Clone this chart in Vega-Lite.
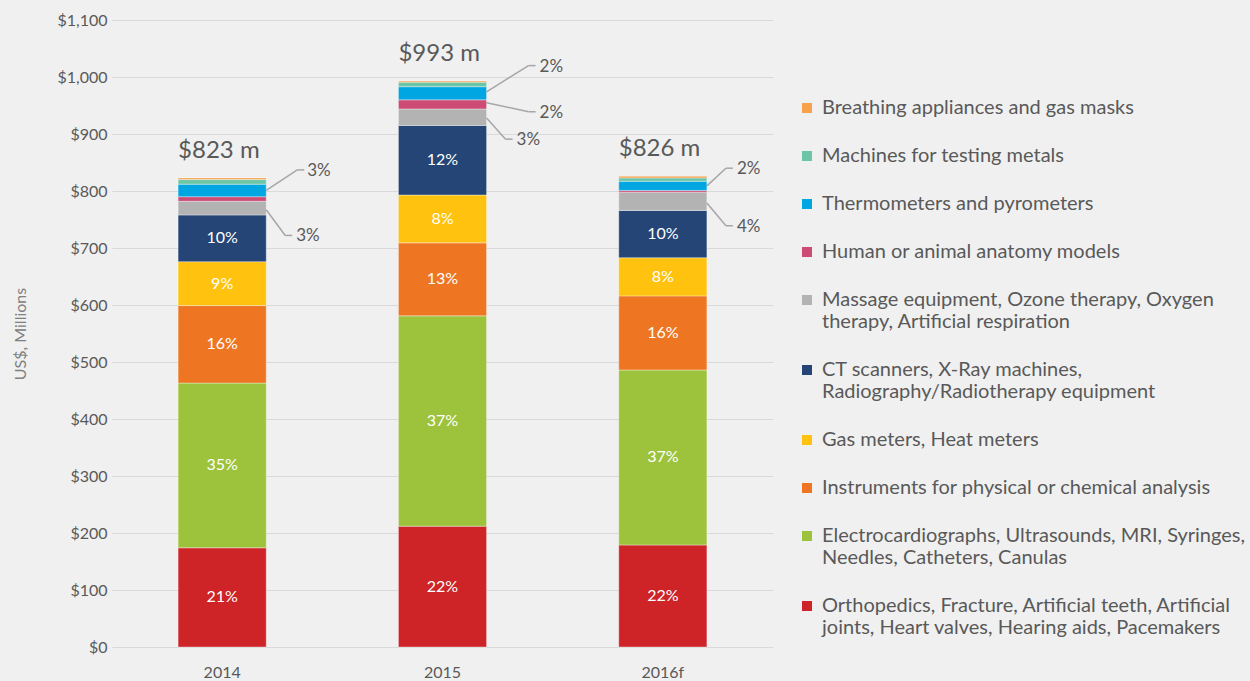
{
  "$schema": "https://vega.github.io/schema/vega-lite/v6.json",
  "width": 661,
  "height": 627,
  "autosize": {"type": "none"},
  "padding": {"left": 112, "top": 20, "right": 477, "bottom": 34},
  "background": "#f0f0f0",
  "datasets": {
    "imports": [
      {"year": "2014", "cat": "Orthopedics, Fracture, Artificial teeth, Artificial joints, Heart valves, Hearing aids, Pacemakers", "value": 174, "pct": "21%"},
      {"year": "2014", "cat": "Electrocardiographs, Ultrasounds, MRI, Syringes, Needles, Catheters, Canulas", "value": 289, "pct": "35%"},
      {"year": "2014", "cat": "Instruments for physical or chemical analysis", "value": 136, "pct": "16%"},
      {"year": "2014", "cat": "Gas meters, Heat meters", "value": 77, "pct": "9%"},
      {"year": "2014", "cat": "CT scanners, X-Ray machines, Radiography/Radiotherapy equipment", "value": 82, "pct": "10%"},
      {"year": "2014", "cat": "Massage equipment, Ozone therapy, Oxygen therapy, Artificial respiration", "value": 24},
      {"year": "2014", "cat": "Human or animal anatomy models", "value": 8},
      {"year": "2014", "cat": "Thermometers and pyrometers", "value": 22},
      {"year": "2014", "cat": "Machines for testing metals", "value": 8},
      {"year": "2014", "cat": "Breathing appliances and gas masks", "value": 3},
      {"year": "2015", "cat": "Orthopedics, Fracture, Artificial teeth, Artificial joints, Heart valves, Hearing aids, Pacemakers", "value": 212, "pct": "22%"},
      {"year": "2015", "cat": "Electrocardiographs, Ultrasounds, MRI, Syringes, Needles, Catheters, Canulas", "value": 369, "pct": "37%"},
      {"year": "2015", "cat": "Instruments for physical or chemical analysis", "value": 128, "pct": "13%"},
      {"year": "2015", "cat": "Gas meters, Heat meters", "value": 84, "pct": "8%"},
      {"year": "2015", "cat": "CT scanners, X-Ray machines, Radiography/Radiotherapy equipment", "value": 122, "pct": "12%"},
      {"year": "2015", "cat": "Massage equipment, Ozone therapy, Oxygen therapy, Artificial respiration", "value": 29},
      {"year": "2015", "cat": "Human or animal anatomy models", "value": 16},
      {"year": "2015", "cat": "Thermometers and pyrometers", "value": 23},
      {"year": "2015", "cat": "Machines for testing metals", "value": 8},
      {"year": "2015", "cat": "Breathing appliances and gas masks", "value": 2},
      {"year": "2016f", "cat": "Orthopedics, Fracture, Artificial teeth, Artificial joints, Heart valves, Hearing aids, Pacemakers", "value": 179, "pct": "22%"},
      {"year": "2016f", "cat": "Electrocardiographs, Ultrasounds, MRI, Syringes, Needles, Catheters, Canulas", "value": 307, "pct": "37%"},
      {"year": "2016f", "cat": "Instruments for physical or chemical analysis", "value": 130, "pct": "16%"},
      {"year": "2016f", "cat": "Gas meters, Heat meters", "value": 67, "pct": "8%"},
      {"year": "2016f", "cat": "CT scanners, X-Ray machines, Radiography/Radiotherapy equipment", "value": 83, "pct": "10%"},
      {"year": "2016f", "cat": "Massage equipment, Ozone therapy, Oxygen therapy, Artificial respiration", "value": 32},
      {"year": "2016f", "cat": "Human or animal anatomy models", "value": 3},
      {"year": "2016f", "cat": "Thermometers and pyrometers", "value": 16},
      {"year": "2016f", "cat": "Machines for testing metals", "value": 6},
      {"year": "2016f", "cat": "Breathing appliances and gas masks", "value": 3}
    ],
    "callouts": [
      {"year": "2014", "pct": "3%", "anchor": 801, "labelAt": 837, "reach": "mid"},
      {"year": "2014", "pct": "3%", "anchor": 767, "labelAt": 722, "reach": "short"},
      {"year": "2015", "pct": "2%", "anchor": 974, "labelAt": 1020, "reach": "long"},
      {"year": "2015", "pct": "2%", "anchor": 955, "labelAt": 939, "reach": "long"},
      {"year": "2015", "pct": "3%", "anchor": 928, "labelAt": 891, "reach": "short"},
      {"year": "2016f", "pct": "2%", "anchor": 809, "labelAt": 840, "reach": "short"},
      {"year": "2016f", "pct": "4%", "anchor": 779, "labelAt": 739, "reach": "short"}
    ]
  },
  "layer": [
    {
      "data": {"name": "imports"},
      "transform": [
        {"calculate": "indexof(['Orthopedics, Fracture, Artificial teeth, Artificial joints, Heart valves, Hearing aids, Pacemakers','Electrocardiographs, Ultrasounds, MRI, Syringes, Needles, Catheters, Canulas','Instruments for physical or chemical analysis','Gas meters, Heat meters','CT scanners, X-Ray machines, Radiography/Radiotherapy equipment','Massage equipment, Ozone therapy, Oxygen therapy, Artificial respiration','Human or animal anatomy models','Thermometers and pyrometers','Machines for testing metals','Breathing appliances and gas masks'], datum.cat)", "as": "ord"},
        {"stack": "value", "groupby": ["year"], "sort": [{"field": "ord", "order": "ascending"}], "as": ["v0", "v1"]}
      ],
      "mark": {"type": "bar", "stroke": "#ffffff", "strokeWidth": 0.6, "strokeOpacity": 0.6},
      "encoding": {
        "x": {"field": "year", "type": "nominal", "title": null, "scale": {"paddingInner": 0.6, "paddingOuter": 0.3}},
        "y": {"field": "v0", "type": "quantitative", "title": "US$, Millions", "scale": {"domain": [0, 1100], "nice": false},
              "axis": {"values": [0, 100, 200, 300, 400, 500, 600, 700, 800, 900, 1000, 1100], "format": "$,.0f"}},
        "y2": {"field": "v1"},
        "color": {
          "field": "cat", "type": "nominal",
          "scale": {
            "domain": ["Breathing appliances and gas masks", "Machines for testing metals", "Thermometers and pyrometers", "Human or animal anatomy models", "Massage equipment, Ozone therapy, Oxygen therapy, Artificial respiration", "CT scanners, X-Ray machines, Radiography/Radiotherapy equipment", "Gas meters, Heat meters", "Instruments for physical or chemical analysis", "Electrocardiographs, Ultrasounds, MRI, Syringes, Needles, Catheters, Canulas", "Orthopedics, Fracture, Artificial teeth, Artificial joints, Heart valves, Hearing aids, Pacemakers"],
            "range": ["#F7A24B", "#6CC5A6", "#00A6E1", "#CC4C75", "#B3B3B3", "#244576", "#FFC20E", "#EE7623", "#9DC23B", "#CE2327"]
          },
          "legend": {
            "title": null,
            "orient": "none",
            "legendX": 685,
            "legendY": 78,
            "labelExpr": "datum.label == 'Massage equipment, Ozone therapy, Oxygen therapy, Artificial respiration' ? ['Massage equipment, Ozone therapy, Oxygen', 'therapy, Artificial respiration'] : datum.label == 'CT scanners, X-Ray machines, Radiography/Radiotherapy equipment' ? ['CT scanners, X-Ray machines,', 'Radiography/Radiotherapy equipment'] : datum.label == 'Electrocardiographs, Ultrasounds, MRI, Syringes, Needles, Catheters, Canulas' ? ['Electrocardiographs, Ultrasounds, MRI, Syringes,', 'Needles, Catheters, Canulas'] : datum.label == 'Orthopedics, Fracture, Artificial teeth, Artificial joints, Heart valves, Hearing aids, Pacemakers' ? ['Orthopedics, Fracture, Artificial teeth, Artificial', 'joints, Heart valves, Hearing aids, Pacemakers'] : datum.label",
            "encode": {"labels": {"lineHeight": {"value": 24}}}
          }
        }
      }
    },
    {
      "data": {"name": "imports"},
      "transform": [
        {"calculate": "indexof(['Orthopedics, Fracture, Artificial teeth, Artificial joints, Heart valves, Hearing aids, Pacemakers','Electrocardiographs, Ultrasounds, MRI, Syringes, Needles, Catheters, Canulas','Instruments for physical or chemical analysis','Gas meters, Heat meters','CT scanners, X-Ray machines, Radiography/Radiotherapy equipment','Massage equipment, Ozone therapy, Oxygen therapy, Artificial respiration','Human or animal anatomy models','Thermometers and pyrometers','Machines for testing metals','Breathing appliances and gas masks'], datum.cat)", "as": "ord"},
        {"stack": "value", "groupby": ["year"], "sort": [{"field": "ord", "order": "ascending"}], "as": ["v0", "v1"]},
        {"filter": "datum.ord < 5"},
        {"calculate": "(datum.v0 + datum.v1) / 2", "as": "mid"}
      ],
      "mark": {"type": "text", "color": "#ffffff", "fontSize": 16, "baseline": "middle", "align": "center"},
      "encoding": {
        "x": {"field": "year", "type": "nominal", "title": null},
        "y": {"field": "mid", "type": "quantitative", "title": "US$, Millions", "scale": {"domain": [0, 1100], "nice": false}},
        "text": {"field": "pct"}
      }
    },
    {
      "data": {"name": "imports"},
      "transform": [
        {"aggregate": [{"op": "sum", "field": "value", "as": "total"}], "groupby": ["year"]},
        {"calculate": "'$' + format(datum.total, ',') + ' m'", "as": "label"}
      ],
      "mark": {"type": "text", "color": "#595959", "fontSize": 24, "baseline": "middle", "align": "left", "dy": -27},
      "encoding": {
        "x": {"field": "year", "type": "nominal", "title": null, "bandPosition": 0},
        "y": {"field": "total", "type": "quantitative", "title": "US$, Millions", "scale": {"domain": [0, 1100], "nice": false}},
        "text": {"field": "label"}
      }
    },
    {
      "data": {"name": "callouts"},
      "transform": [{"filter": "datum.reach == 'short'"}],
      "layer": [
        {"mark": {"type": "rule", "color": "#a6a6a6", "strokeWidth": 1.5, "x2Offset": 19},
         "encoding": {"x": {"field": "year", "type": "nominal", "title": null, "bandPosition": 1}, "x2": {"field": "year", "bandPosition": 1},
                      "y": {"field": "anchor", "type": "quantitative", "title": "US$, Millions", "scale": {"domain": [0, 1100], "nice": false}}, "y2": {"field": "labelAt"}}},
        {"mark": {"type": "rule", "color": "#a6a6a6", "strokeWidth": 1.5, "xOffset": 19, "x2Offset": 26},
         "encoding": {"x": {"field": "year", "type": "nominal", "title": null, "bandPosition": 1}, "x2": {"field": "year", "bandPosition": 1},
                      "y": {"field": "labelAt", "type": "quantitative", "title": "US$, Millions", "scale": {"domain": [0, 1100], "nice": false}}}},
        {"mark": {"type": "text", "color": "#595959", "fontSize": 17, "align": "left", "baseline": "middle", "dx": 30, "dy": 1},
         "encoding": {"x": {"field": "year", "type": "nominal", "title": null, "bandPosition": 1},
                      "y": {"field": "labelAt", "type": "quantitative", "title": "US$, Millions", "scale": {"domain": [0, 1100], "nice": false}},
                      "text": {"field": "pct"}}}
      ]
    },
    {
      "data": {"name": "callouts"},
      "transform": [{"filter": "datum.reach == 'mid'"}],
      "layer": [
        {"mark": {"type": "rule", "color": "#a6a6a6", "strokeWidth": 1.5, "x2Offset": 31},
         "encoding": {"x": {"field": "year", "type": "nominal", "title": null, "bandPosition": 1}, "x2": {"field": "year", "bandPosition": 1},
                      "y": {"field": "anchor", "type": "quantitative", "title": "US$, Millions", "scale": {"domain": [0, 1100], "nice": false}}, "y2": {"field": "labelAt"}}},
        {"mark": {"type": "rule", "color": "#a6a6a6", "strokeWidth": 1.5, "xOffset": 31, "x2Offset": 38},
         "encoding": {"x": {"field": "year", "type": "nominal", "title": null, "bandPosition": 1}, "x2": {"field": "year", "bandPosition": 1},
                      "y": {"field": "labelAt", "type": "quantitative", "title": "US$, Millions", "scale": {"domain": [0, 1100], "nice": false}}}},
        {"mark": {"type": "text", "color": "#595959", "fontSize": 17, "align": "left", "baseline": "middle", "dx": 41, "dy": 1},
         "encoding": {"x": {"field": "year", "type": "nominal", "title": null, "bandPosition": 1},
                      "y": {"field": "labelAt", "type": "quantitative", "title": "US$, Millions", "scale": {"domain": [0, 1100], "nice": false}},
                      "text": {"field": "pct"}}}
      ]
    },
    {
      "data": {"name": "callouts"},
      "transform": [{"filter": "datum.reach == 'long'"}],
      "layer": [
        {"mark": {"type": "rule", "color": "#a6a6a6", "strokeWidth": 1.5, "x2Offset": 42},
         "encoding": {"x": {"field": "year", "type": "nominal", "title": null, "bandPosition": 1}, "x2": {"field": "year", "bandPosition": 1},
                      "y": {"field": "anchor", "type": "quantitative", "title": "US$, Millions", "scale": {"domain": [0, 1100], "nice": false}}, "y2": {"field": "labelAt"}}},
        {"mark": {"type": "rule", "color": "#a6a6a6", "strokeWidth": 1.5, "xOffset": 42, "x2Offset": 49},
         "encoding": {"x": {"field": "year", "type": "nominal", "title": null, "bandPosition": 1}, "x2": {"field": "year", "bandPosition": 1},
                      "y": {"field": "labelAt", "type": "quantitative", "title": "US$, Millions", "scale": {"domain": [0, 1100], "nice": false}}}},
        {"mark": {"type": "text", "color": "#595959", "fontSize": 17, "align": "left", "baseline": "middle", "dx": 53, "dy": 1},
         "encoding": {"x": {"field": "year", "type": "nominal", "title": null, "bandPosition": 1},
                      "y": {"field": "labelAt", "type": "quantitative", "title": "US$, Millions", "scale": {"domain": [0, 1100], "nice": false}},
                      "text": {"field": "pct"}}}
      ]
    }
  ],
  "config": {
    "font": "Lato",
    "view": {"stroke": null},
    "axis": {
      "labelColor": "#595959",
      "labelFontSize": 16,
      "titleColor": "#808080",
      "titleFontSize": 16,
      "titleFontWeight": "normal",
      "domain": false,
      "ticks": false,
      "gridColor": "#d9d9d9",
      "gridWidth": 1
    },
    "axisX": {"grid": false, "labelAngle": 0, "labelPadding": 17, "labelFontSize": 16},
    "axisY": {"grid": true, "labelPadding": 5, "titlePadding": 28},
    "legend": {
      "symbolType": "square",
      "symbolSize": 100,
      "symbolStrokeWidth": 0,
      "labelFontSize": 20,
      "labelColor": "#595959",
      "labelLimit": 600,
      "labelOffset": 5,
      "rowPadding": 28,
      "padding": 0
    }
  }
}
